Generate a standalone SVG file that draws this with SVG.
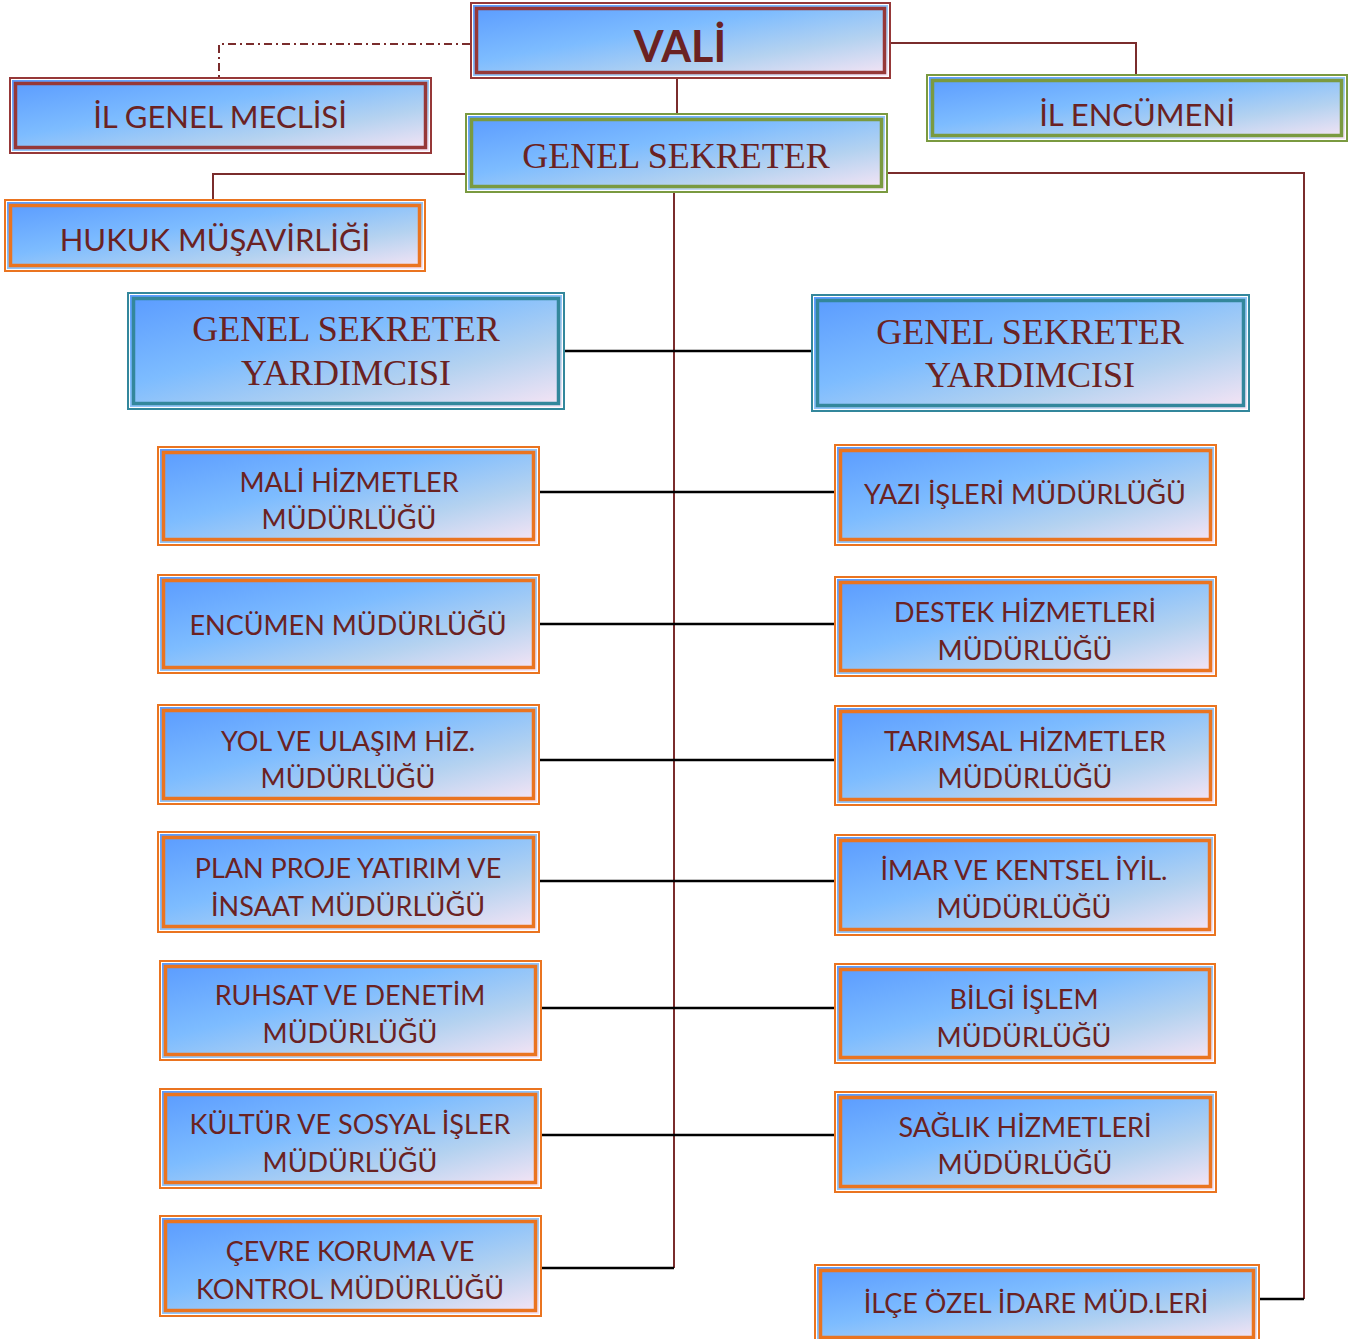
<svg xmlns="http://www.w3.org/2000/svg" width="1351" height="1339" viewBox="0 0 1351 1339">
<defs>
<linearGradient id="g" x1="0" y1="0" x2="1" y2="1">
<stop offset="0" stop-color="#5a9bff"/>
<stop offset="0.4" stop-color="#7dbcff"/>
<stop offset="0.7" stop-color="#b4d2f0"/>
<stop offset="1" stop-color="#f8e5f5"/>
</linearGradient>
<style>
.o{fill:#fff;stroke-width:2}
.f{fill:url(#g)}
.i{fill:none;stroke-width:3.5}
.red .o,.red .i{stroke:#963838}
.grn .o,.grn .i{stroke:#7a9a40}
.org .o,.org .i{stroke:#ea7420}
.tea .o,.tea .i{stroke:#33879c}
text{fill:#6b2222;text-anchor:middle;font-family:Lato,"Open Sans",sans-serif}
.s{font-size:27px}
.m{font-size:31px}
.t{font-family:"Liberation Serif","Times New Roman",serif;font-size:36px}
.b{font-size:43px;font-weight:bold}
.dr{stroke:#7a2c2c;stroke-width:2;fill:none}
.bk{stroke:#000;stroke-width:2.5;fill:none}
</style>
</defs>
<g id="connectors">
<path class="dr" d="M470,44 H219 V77" stroke-dasharray="8,4,2,4"/>
<path class="dr" d="M890,43 H1136 V74"/>
<path class="dr" d="M677,78 V113"/>
<path class="dr" d="M465,174 H213 V199"/>
<path class="dr" d="M887,173 H1304 V1299"/>
<path class="dr" d="M674,193 V1268"/>
<path class="bk" d="M1304,1299 H1259"/>
<path class="bk" d="M674,1268 H540"/>
<path class="bk" d="M564,351 H811"/>
<path class="bk" d="M539,492 H834"/>
<path class="bk" d="M539,624 H836"/>
<path class="bk" d="M539,760 H836"/>
<path class="bk" d="M536,881 H834"/>
<path class="bk" d="M541,1008 H836"/>
<path class="bk" d="M541,1135 H836"/>
</g>
<g id="vali" class="red">
<rect class="o" x="471" y="3" width="419" height="75"/><rect class="f" x="473" y="5" width="415" height="71"/><rect class="i" x="476.5" y="8.5" width="408" height="64"/>
<text class="b" x="680" y="62">VALİ</text>
</g>
<g id="il-genel-meclisi" class="red">
<rect class="o" x="10" y="78" width="421" height="75"/><rect class="f" x="12" y="80" width="417" height="71"/><rect class="i" x="15.5" y="83.5" width="410" height="64"/>
<text class="m" x="220" y="128">İL GENEL MECLİSİ</text>
</g>
<g id="il-encumeni" class="grn">
<rect class="o" x="927" y="75" width="420" height="66"/><rect class="f" x="929" y="77" width="416" height="62"/><rect class="i" x="932.5" y="80.5" width="409" height="55"/>
<text class="m" x="1137" y="126">İL ENCÜMENİ</text>
</g>
<g id="genel-sekreter" class="grn">
<rect class="o" x="466" y="114" width="421" height="78"/><rect class="f" x="468" y="116" width="417" height="74"/><rect class="i" x="471.5" y="119.5" width="410" height="67"/>
<text class="t" x="676" y="168">GENEL SEKRETER</text>
</g>
<g id="hukuk" class="org">
<rect class="o" x="5" y="200" width="420" height="71"/><rect class="f" x="7" y="202" width="416" height="67"/><rect class="i" x="10.5" y="205.5" width="409" height="60"/>
<text class="m" x="215" y="251">HUKUK MÜŞAVİRLİĞİ</text>
</g>
<g id="gsy-left" class="tea">
<rect class="o" x="128" y="293" width="436" height="116"/><rect class="f" x="130" y="295" width="432" height="112"/><rect class="i" x="133.5" y="298.5" width="425" height="105"/>
<text class="t" x="346" y="341">GENEL SEKRETER</text><text class="t" x="346" y="385">YARDIMCISI</text>
</g>
<g id="gsy-right" class="tea">
<rect class="o" x="812" y="295" width="437" height="116"/><rect class="f" x="814" y="297" width="433" height="112"/><rect class="i" x="817.5" y="300.5" width="426" height="105"/>
<text class="t" x="1030" y="344">GENEL SEKRETER</text><text class="t" x="1030" y="387">YARDIMCISI</text>
</g>
<g id="mali" class="org">
<rect class="o" x="158" y="447" width="381" height="98"/><rect class="f" x="160" y="449" width="377" height="94"/><rect class="i" x="163.5" y="452.5" width="370" height="87"/>
<text class="s" x="349" y="492">MALİ HİZMETLER</text><text class="s" x="349" y="529">MÜDÜRLÜĞÜ</text>
</g>
<g id="encumen-mud" class="org">
<rect class="o" x="158" y="575" width="381" height="98"/><rect class="f" x="160" y="577" width="377" height="94"/><rect class="i" x="163.5" y="580.5" width="370" height="87"/>
<text class="s" x="348" y="635">ENCÜMEN MÜDÜRLÜĞÜ</text>
</g>
<g id="yol" class="org">
<rect class="o" x="158" y="705" width="381" height="99"/><rect class="f" x="160" y="707" width="377" height="95"/><rect class="i" x="163.5" y="710.5" width="370" height="88"/>
<text class="s" x="348" y="751">YOL VE ULAŞIM HİZ.</text><text class="s" x="348" y="788">MÜDÜRLÜĞÜ</text>
</g>
<g id="plan" class="org">
<rect class="o" x="158" y="832" width="381" height="100"/><rect class="f" x="160" y="834" width="377" height="96"/><rect class="i" x="163.5" y="837.5" width="370" height="89"/>
<text class="s" x="348" y="878">PLAN PROJE YATIRIM VE</text><text class="s" x="348" y="916">İNSAAT MÜDÜRLÜĞÜ</text>
</g>
<g id="ruhsat" class="org">
<rect class="o" x="160" y="961" width="381" height="99"/><rect class="f" x="162" y="963" width="377" height="95"/><rect class="i" x="165.5" y="966.5" width="370" height="88"/>
<text class="s" x="350" y="1005">RUHSAT VE DENETİM</text><text class="s" x="350" y="1043">MÜDÜRLÜĞÜ</text>
</g>
<g id="kultur" class="org">
<rect class="o" x="160" y="1089" width="381" height="99"/><rect class="f" x="162" y="1091" width="377" height="95"/><rect class="i" x="165.5" y="1094.5" width="370" height="88"/>
<text class="s" x="350" y="1134">KÜLTÜR VE SOSYAL İŞLER</text><text class="s" x="350" y="1172">MÜDÜRLÜĞÜ</text>
</g>
<g id="cevre" class="org">
<rect class="o" x="160" y="1216" width="381" height="100"/><rect class="f" x="162" y="1218" width="377" height="96"/><rect class="i" x="165.5" y="1221.5" width="370" height="89"/>
<text class="s" x="350" y="1261">ÇEVRE KORUMA VE</text><text class="s" x="350" y="1299">KONTROL MÜDÜRLÜĞÜ</text>
</g>
<g id="yazi" class="org">
<rect class="o" x="835" y="445" width="381" height="100"/><rect class="f" x="837" y="447" width="377" height="96"/><rect class="i" x="840.5" y="450.5" width="370" height="89"/>
<text class="s" x="1025" y="504">YAZI İŞLERİ MÜDÜRLÜĞÜ</text>
</g>
<g id="destek" class="org">
<rect class="o" x="835" y="577" width="381" height="99"/><rect class="f" x="837" y="579" width="377" height="95"/><rect class="i" x="840.5" y="582.5" width="370" height="88"/>
<text class="s" x="1025" y="622">DESTEK HİZMETLERİ</text><text class="s" x="1025" y="660">MÜDÜRLÜĞÜ</text>
</g>
<g id="tarim" class="org">
<rect class="o" x="835" y="706" width="381" height="99"/><rect class="f" x="837" y="708" width="377" height="95"/><rect class="i" x="840.5" y="711.5" width="370" height="88"/>
<text class="s" x="1025" y="751">TARIMSAL HİZMETLER</text><text class="s" x="1025" y="788">MÜDÜRLÜĞÜ</text>
</g>
<g id="imar" class="org">
<rect class="o" x="835" y="835" width="380" height="100"/><rect class="f" x="837" y="837" width="376" height="96"/><rect class="i" x="840.5" y="840.5" width="369" height="89"/>
<text class="s" x="1024" y="880">İMAR VE KENTSEL İYİL.</text><text class="s" x="1024" y="918">MÜDÜRLÜĞÜ</text>
</g>
<g id="bilgi" class="org">
<rect class="o" x="835" y="964" width="380" height="99"/><rect class="f" x="837" y="966" width="376" height="95"/><rect class="i" x="840.5" y="969.5" width="369" height="88"/>
<text class="s" x="1024" y="1009">BİLGİ İŞLEM</text><text class="s" x="1024" y="1047">MÜDÜRLÜĞÜ</text>
</g>
<g id="saglik" class="org">
<rect class="o" x="835" y="1092" width="381" height="100"/><rect class="f" x="837" y="1094" width="377" height="96"/><rect class="i" x="840.5" y="1097.5" width="370" height="89"/>
<text class="s" x="1025" y="1137">SAĞLIK HİZMETLERİ</text><text class="s" x="1025" y="1174">MÜDÜRLÜĞÜ</text>
</g>
<g id="ilce" class="org">
<rect class="o" x="815" y="1265" width="444" height="78"/><rect class="f" x="817" y="1267" width="440" height="74"/><rect class="i" x="820.5" y="1270.5" width="433" height="67"/>
<text class="s" x="1036" y="1313">İLÇE ÖZEL İDARE MÜD.LERİ</text>
</g>
</svg>
